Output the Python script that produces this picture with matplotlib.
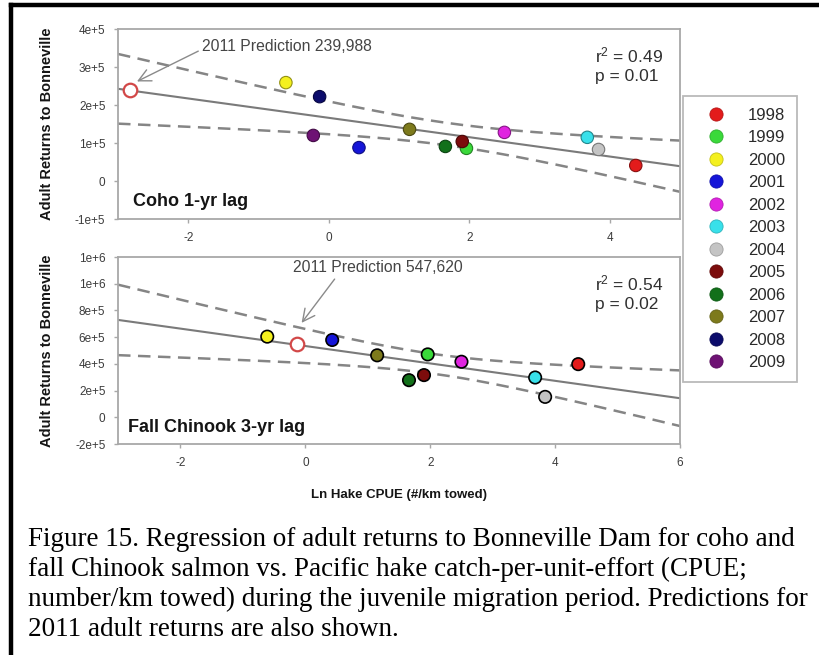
import matplotlib
matplotlib.use("Agg")
import matplotlib.pyplot as plt
import numpy as np
from matplotlib.colors import to_rgb
from matplotlib.lines import Line2D

plt.rcParams['font.family'] = ['Liberation Sans', 'DejaVu Sans']
plt.rcParams['mathtext.fontset'] = 'custom'
plt.rcParams['mathtext.rm'] = 'Liberation Sans'
plt.rcParams['mathtext.it'] = 'Liberation Sans'
plt.rcParams['axes.unicode_minus'] = False

# years and colours (legend order)
years = ['1998', '1999', '2000', '2001', '2002', '2003',
         '2004', '2005', '2006', '2007', '2008', '2009']
colors = ['#e31b1b', '#3ad93a', '#f4f01e', '#1515d8', '#e024e0', '#38e0ea',
          '#c4c4c4', '#7c0c0c', '#12701a', '#7d7a1c', '#0c0c6c', '#6e1274']

# Ln hake CPUE for each year
cpue = [4.37, 1.96, -0.61, 0.43, 2.50, 3.68, 3.84, 1.90, 1.66, 1.15, -0.13, -0.22]

# adult returns to Bonneville
coho = [0.41e5, 0.86e5, 2.59e5, 0.88e5, 1.28e5, 1.15e5,
        0.83e5, 1.04e5, 0.91e5, 1.36e5, 2.22e5, 1.20e5]
chinook = [3.98e5, 4.71e5, 6.04e5, 5.79e5, 4.16e5, 2.98e5,
           1.53e5, 3.16e5, 2.78e5, 4.64e5, None, None]

# 2011 predictions (x = CPUE used, y = predicted returns)
coho_pred = (-2.83, 239988)
chinook_pred = (-0.13, 547620)

# t critical values (95%) for n-2 df
t_crit = {8: 2.306, 10: 2.228}

coho_yticks = [-1e5, 0, 1e5, 2e5, 3e5, 4e5]
coho_ylabels = ['-1e+5', '0', '1e+5', '2e+5', '3e+5', '4e+5']
chin_yticks = [-2e5, 0, 2e5, 4e5, 6e5, 8e5, 1e6, 1.2e6]
chin_ylabels = ['-2e+5', '0', '2e+5', '4e+5', '6e+5', '8e+5', '1e+6', '1e+6']

spine_c = '#a8a8a8'
tick_c = '#3c3c3c'


def darker(c, f=0.6):
    return tuple(v * f for v in to_rgb(c))


def panel(ax, y, xlim, pred, edge, ew, title, title_x, stats,
          ann_text, ann_xy, ann_xytext, relpos):
    xs = np.array([x for x, v in zip(cpue, y) if v is not None])
    ys = np.array([v for v in y if v is not None])
    cs = [c for c, v in zip(colors, y) if v is not None]
    n = len(xs)
    b, a = np.polyfit(xs, ys, 1)
    resid = ys - (a + b * xs)
    s = np.sqrt(np.sum(resid ** 2) / (n - 2))
    sxx = np.sum((xs - xs.mean()) ** 2)
    xx = np.linspace(xlim[0], xlim[1], 200)
    fit = a + b * xx
    half = t_crit[n - 2] * s * np.sqrt(1.0 / n + (xx - xs.mean()) ** 2 / sxx)

    ax.plot(xx, fit, color='#7a7a7a', lw=1.5, zorder=2)
    ax.plot(xx, fit + half, color='#858585', lw=1.8, ls=(0, (5, 3)), zorder=2)
    ax.plot(xx, fit - half, color='#858585', lw=1.8, ls=(0, (5, 3)), zorder=2)

    ecs = [darker(c) for c in cs] if edge is None else edge
    ax.scatter(xs, ys, s=80, c=cs, edgecolors=ecs, linewidths=ew, zorder=4)
    ax.scatter([pred[0]], [pred[1]], s=95, facecolors='white',
               edgecolors='#d24848', linewidths=1.6, zorder=4)

    ax.annotate(ann_text, xy=ann_xy, xytext=ann_xytext, fontsize=11.3,
                color='#454545', ha='left', va='center',
                arrowprops=dict(arrowstyle='->', color='#8a8a8a', lw=1.0,
                                mutation_scale=22, relpos=relpos,
                                shrinkA=1, shrinkB=0))
    ax.text(title_x, 0.09, title, transform=ax.transAxes, fontsize=13,
            fontweight='bold', color='#151515', ha='left', va='center')
    ax.text(0.848, 0.81, stats, transform=ax.transAxes, fontsize=12.5,
            color='#303030', ha='left', va='center', linespacing=1.3)

    ax.set_xlim(*xlim)
    for sp in ax.spines.values():
        sp.set_color(spine_c)
        sp.set_linewidth(1.3)
    ax.tick_params(colors=spine_c, labelcolor=tick_c, labelsize=8.5,
                   length=3, width=1, pad=6)
    ax.set_ylabel('Adult Returns to Bonneville', fontsize=10.5,
                  fontweight='bold', color='#151515')
    ax.yaxis.set_label_coords(-0.114, 0.5)


fig = plt.figure(figsize=(8.2, 6.55), dpi=100)
ax1 = fig.add_axes([0.1439, 0.6656, 0.6854, 0.2901])
ax2 = fig.add_axes([0.1439, 0.3221, 0.6854, 0.2855])

panel(ax1, coho, (-3, 5), coho_pred, None, 0.8, 'Coho 1-yr lag', 0.027,
      'r$^2$ = 0.49\np = 0.01', '2011 Prediction 239,988',
      (-2.73, 2.62e5), (-1.80, 3.53e5), (0, 0.35))
ax1.set_ylim(-1e5, 4e5)
ax1.set_yticks(coho_yticks)
ax1.set_yticklabels(coho_ylabels)
ax1.set_xticks([-2, 0, 2, 4])

panel(ax2, chinook, (-3, 6), chinook_pred, 'black', 1.2, 'Fall Chinook 3-yr lag', 0.018,
      'r$^2$ = 0.54\np = 0.02', '2011 Prediction 547,620',
      (-0.06, 7.07e5), (-0.20, 11.2e5), (0.27, 0.1))
ax2.set_ylim(-2e5, 1.2e6)
ax2.set_yticks(chin_yticks)
ax2.set_yticklabels(chin_ylabels)
ax2.set_xticks([-2, 0, 2, 4, 6])
ax2.set_xlabel('Ln Hake CPUE (#/km towed)', fontsize=9.5, fontweight='bold',
               color='#151515')
ax2.xaxis.set_label_coords(0.5, -0.24)

handles = [Line2D([], [], ls='none', marker='o', markersize=9.5,
                  markerfacecolor=c, markeredgecolor=darker(c, 0.8),
                  markeredgewidth=0.6) for c in colors]
leg = fig.legend(handles, years, loc='upper left',
                 bbox_to_anchor=(0.833, 1 - 96 / 655), fontsize=12,
                 frameon=True, fancybox=False, borderpad=0.7,
                 labelspacing=0.45, handlelength=2.5, handletextpad=0.7,
                 borderaxespad=0)
leg.get_frame().set_edgecolor(spine_c)
leg.get_frame().set_linewidth(1.3)
for t in leg.get_texts():
    t.set_color('#2a2a2a')

# outer frame (top and left edges)
fig.add_artist(Line2D([0.0134, 1.0], [0.9924, 0.9924], transform=fig.transFigure,
                      color='black', lw=3.2))
fig.add_artist(Line2D([0.0134, 0.0134], [0.0, 0.9924], transform=fig.transFigure,
                      color='black', lw=3.2))

caption = ("Figure 15. Regression of adult returns to Bonneville Dam for coho and\n"
           "fall Chinook salmon vs. Pacific hake catch-per-unit-effort (CPUE;\n"
           "number/km towed) during the juvenile migration period. Predictions for\n"
           "2011 adult returns are also shown.")
fig.text(0.034, 1 - 527 / 655, caption, fontsize=19.5, family='Liberation Serif',
         ha='left', va='top', linespacing=1.25, color='black')

fig.savefig('out.png', dpi=100)
